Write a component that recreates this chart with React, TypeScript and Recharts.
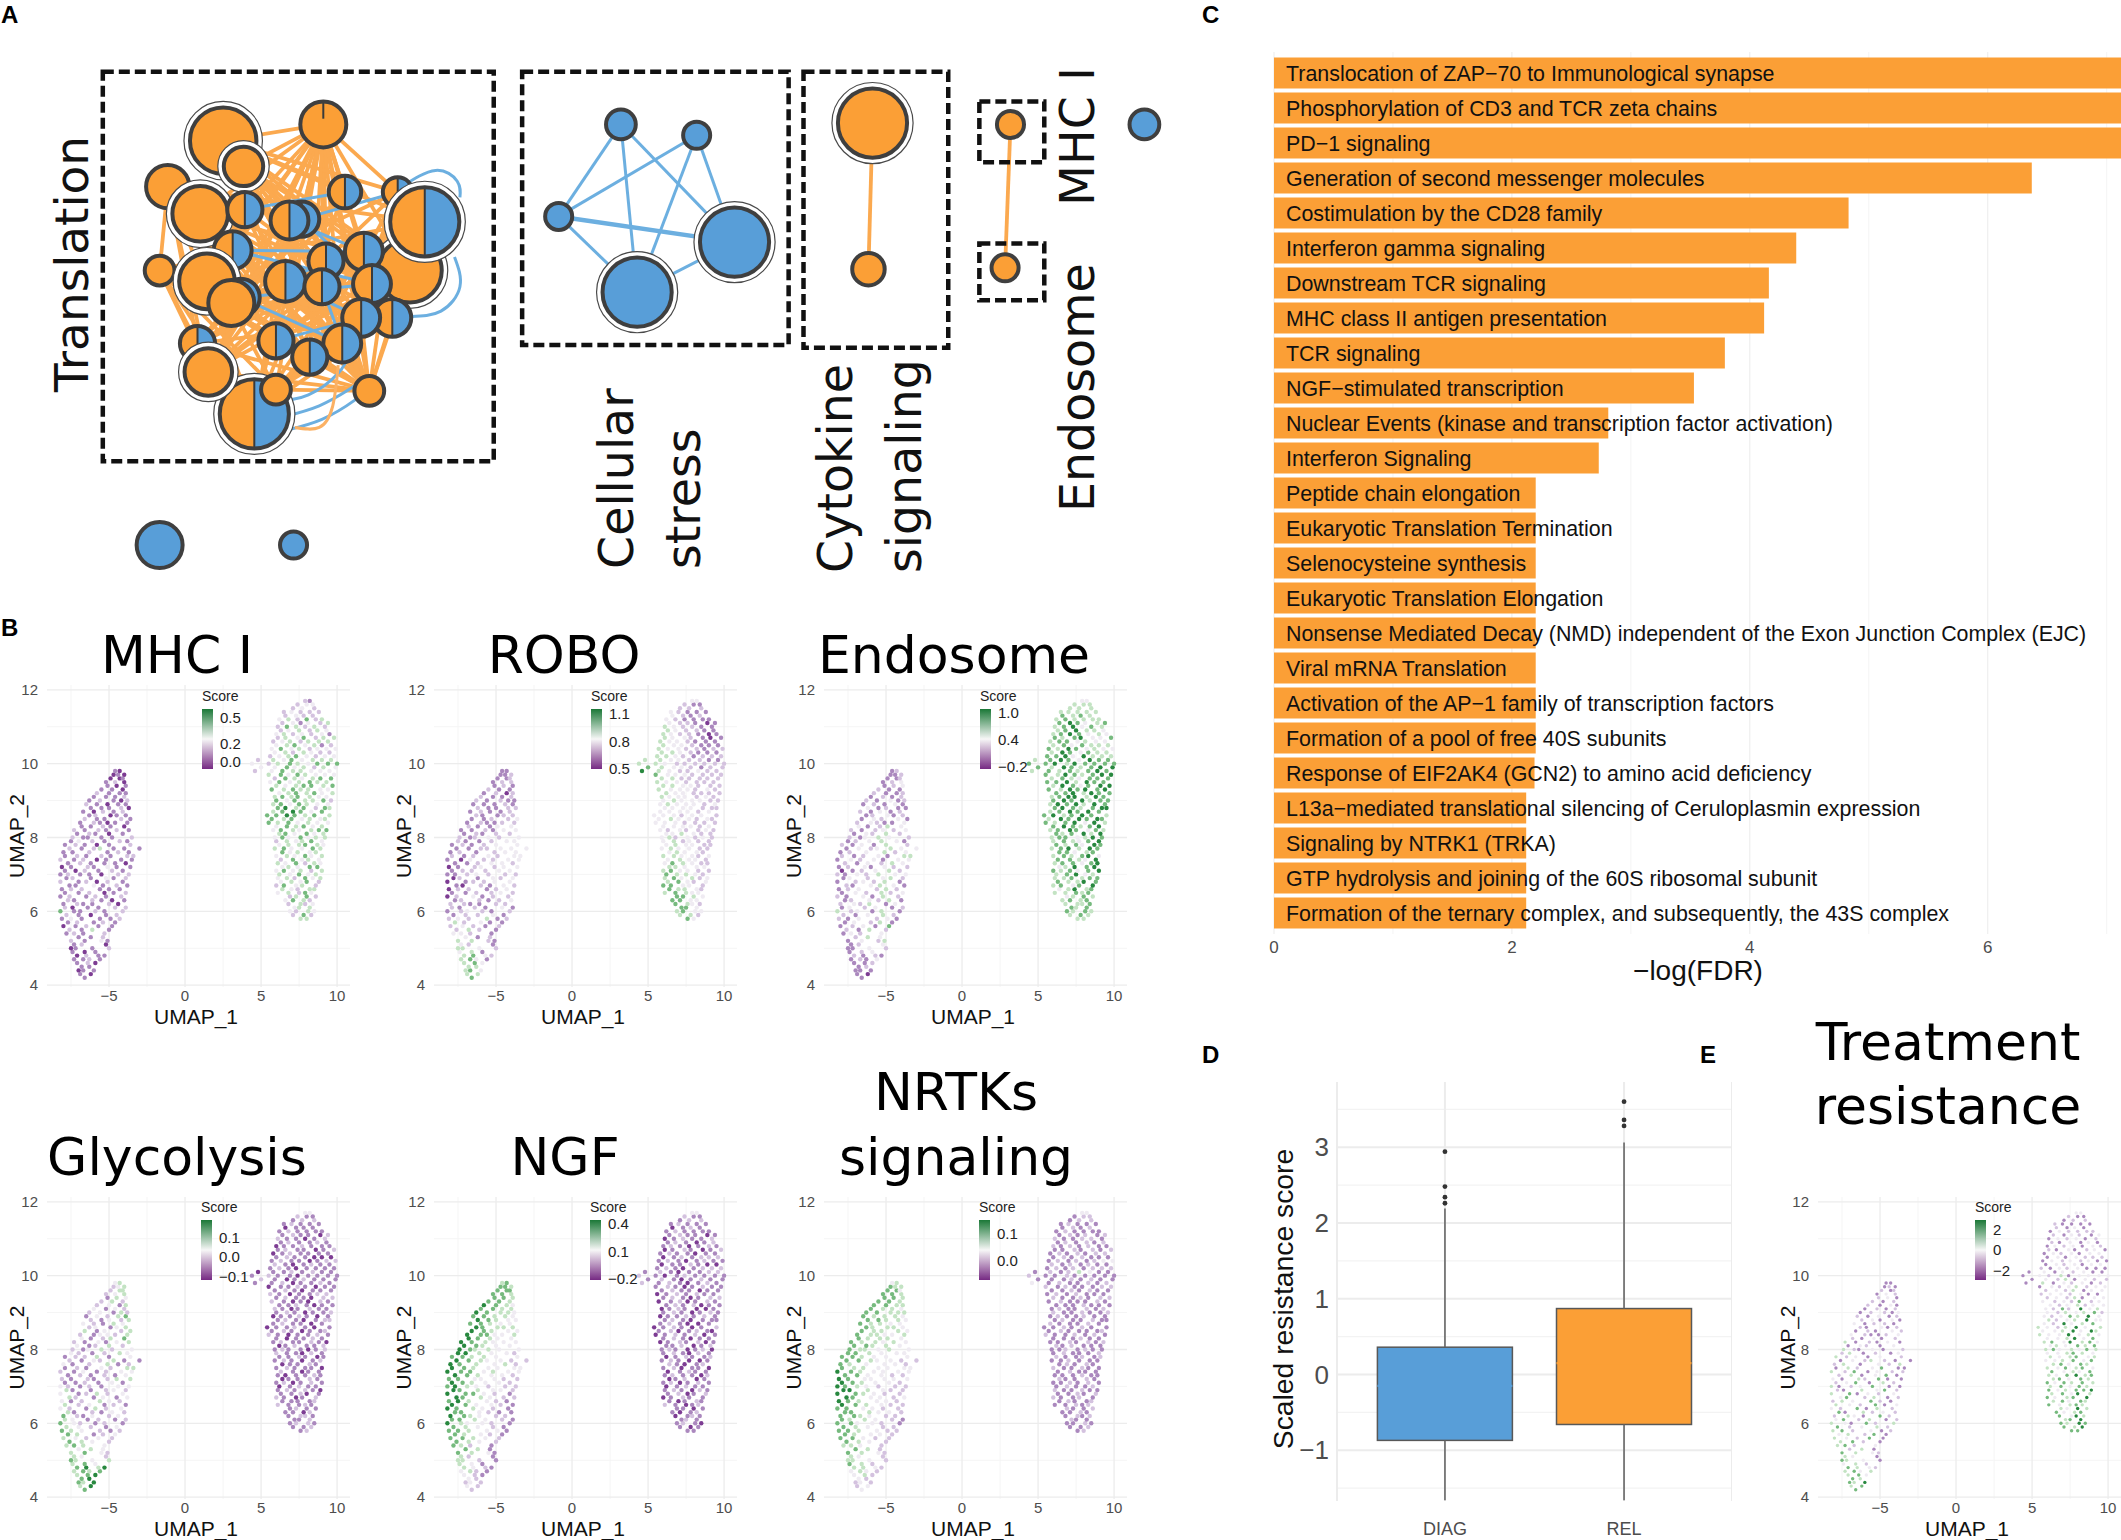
import React from 'react';
import {
  ScatterChart, Scatter, XAxis, YAxis, CartesianGrid, BarChart, Bar, LabelList,
  ComposedChart, ReferenceLine, ReferenceDot,
} from 'recharts';

const ORANGE = '#fb9f36';
const BLUE = '#589ed8';
const SANS = 'Liberation Sans, Arial, sans-serif';
const DEJAVU = 'DejaVu Sans, sans-serif';

// ---- panel A: network, layout units ----
// x, y, r, share of blue (0 orange, 1 blue, 0.5 split), ring
const netNodes: [number, number, number, number, number][] = [
  [165, 104, 29, 0, 1], [124, 138, 16, 0, 0], [180, 123, 19, 0, 1], [239, 92, 17, 0.01, 0],
  [148, 158, 25, 0, 1], [181, 155, 13, 0.5, 0], [294, 142, 11, 0.5, 0], [255, 142, 12, 0.5, 0],
  [303, 200, 28, 0, 1], [223, 162, 13, 0.5, 0], [214, 163, 14, 0.5, 0], [172, 185, 14, 0.5, 0],
  [241, 193, 13, 0.5, 0], [269, 186, 14, 0.5, 0], [118, 200, 11, 0, 0], [153, 208, 25, 0, 1],
  [275, 210, 14, 0.5, 0], [290, 235, 14, 0.5, 0], [178, 220, 14, 0.5, 0], [171, 224, 17, 0, 0],
  [211, 208, 15, 0.5, 0], [238, 212, 13, 0.5, 0], [267, 235, 14, 0.5, 0], [204, 252, 13, 0.5, 0],
  [253, 254, 14, 0.5, 0], [146, 254, 13, 0.5, 0], [229, 264, 13, 0.5, 0], [188, 306, 30, 0.5, 1],
  [154, 275, 22, 0, 1], [204, 288, 11, 0, 0], [273, 289, 11, 0, 0], [314, 164, 30, 0.5, 1],
  [459, 92, 11, 1, 0], [515, 100, 10, 1, 0], [413, 160, 10, 1, 0], [543, 179, 30, 1, 1], [471, 216, 30, 1, 1],
  [645, 91, 30, 0, 1], [642, 199, 12, 0, 0],
  [747, 92, 10, 0, 0], [743, 198, 10, 0, 0],
  [846, 92, 11, 1, 0], [118, 403, 17, 1, 0], [217, 403, 10, 1, 0],
];
const orangeEdges: [number, number][] = [
  [3, 0], [3, 2], [3, 5], [3, 7], [3, 6], [3, 9], [3, 10], [3, 11], [3, 12], [3, 13], [3, 16], [3, 20], [3, 21],
  [3, 8], [3, 22], [3, 23], [3, 24], [3, 26], [3, 30], [3, 19], [3, 4], [3, 15], [3, 18], [3, 29], [3, 27], [3, 28],
  [0, 6], [0, 8], [0, 30], [0, 24], [0, 26], [0, 7], [0, 13], [0, 16], [0, 22], [0, 21],
  [1, 14], [1, 25], [1, 28], [1, 19], [1, 27], [1, 23], [1, 26], [1, 29], [1, 20], [1, 12], [1, 24], [1, 30],
  [4, 30], [4, 17], [4, 24], [4, 26], [4, 22], [4, 16], [4, 8], [14, 25], [14, 28], [14, 27], [14, 29], [14, 11],
  [14, 20], [14, 23], [14, 26], [14, 21], [14, 24], [14, 30], [14, 22], [15, 30], [15, 17], [15, 6], [15, 24], [6, 17],
  [6, 30], [6, 8], [6, 22], [6, 24], [6, 26], [8, 30], [8, 27], [8, 29], [8, 26], [8, 23], [17, 30], [17, 27], [17, 29],
  [17, 26], [17, 25], [22, 30], [24, 30], [26, 30], [25, 30], [28, 30], [29, 30], [23, 30], [19, 30], [21, 30], [12, 30],
  [13, 27], [16, 27], [7, 27], [7, 28], [5, 30], [9, 28], [10, 28], [2, 30], [2, 24], [0, 17], [13, 28], [6, 28], [31, 28],
  [31, 27], [31, 25], [31, 14], [31, 1], [31, 0], [31, 23], [31, 26], [31, 29], [31, 19], [21, 25], [20, 24], [11, 24],
  [18, 22], [5, 26], [7, 25], [12, 25], [2, 22], [2, 17], [2, 8], [5, 17], [9, 25], [10, 27], [16, 28], [13, 25], [20, 30],
  [37, 38], [39, 40],
];
const blueEdges: [number, number][] = [
  [11, 13], [5, 7], [9, 16], [12, 20], [16, 18], [21, 24], [23, 22], [10, 13], [6, 9], [11, 16], [18, 24], [20, 22],
  [32, 34], [32, 35], [32, 36], [33, 34], [33, 35], [33, 36], [34, 36], [35, 36],
];
const heavyEdges: [number, number][] = [[34, 35]];
const blueArcs: [number, number][][] = [
  [[297, 138], [322, 126], [338, 134], [340, 146]],
  [[336, 190], [340, 212], [326, 230], [304, 234]],
  [[210, 308], [236, 300], [258, 288], [270, 280]],
  [[212, 318], [238, 310], [262, 296], [276, 284]],
  [[206, 296], [228, 292], [250, 276], [258, 262]],
];
const orangeArcs: [number, number][][] = [
  [[218, 316], [236, 316], [246, 300], [250, 270]],
];
const netBoxes: [number, number, number, number][] = [
  [76, 53, 365, 341], [386, 53, 583, 255], [594, 53, 701, 257], [724, 75, 772, 120], [724, 180, 772, 222],
];

// ---- panel B/E: UMAP coordinates per row, y then x values ----
const umapRows: [number, number[]][] = [
  [4.2, [-6.6]], [4.3, [-6.9, -6.2]], [4.4, [-7.0, -6.7, -6.0]], [4.5, [-6.8, -6.3]], [4.6, [-7.1, -6.4, -5.9]],
  [4.7, [-7.3, -6.7, -6.3, -5.6]], [4.8, [-7.1, -6.5, -5.7, -5.3]], [4.9, [-7.4, -6.6, -5.9]],
  [5.0, [-7.5, -7.2, -6.1, -5.0]], [5.1, [-7.3, -6.8, -5.2]], [5.2, [-7.5, -6.6, -5.5, -5.1]], [5.3, [-7.0, -6.2, -5.4]],
  [5.4, [-7.8, -7.3, -6.7, -5.3]], [5.5, [-7.6, -6.8, -6.1, -5.0]], [5.6, [-8.0, -7.2, -6.5, -5.7, -4.8]],
  [5.7, [-7.7, -7.1, -6.0, -5.4, -4.6]], [5.8, [-8.1, -7.5, -6.8, -5.6, -4.9, -4.3]], [5.9, [-7.8, -7.0, -6.2, -5.2, -4.5]],
  [6.0, [-8.2, -7.3, -6.9, -5.9, -5.3, -4.1]], [6.1, [-7.9, -7.4, -6.4, -5.7, -4.6, -3.9]], [6.2, [-8.0, -7.1, -6.7, -6.1, -5.0, -4.4]],
  [6.3, [-7.7, -7.3, -6.1, -5.5, -4.8, -4.0]], [6.4, [-8.2, -7.6, -6.5, -5.9, -5.2, -4.2]], [6.5, [-7.9, -7.0, -6.3, -5.3, -4.7, -3.9]],
  [6.6, [-8.1, -7.5, -6.8, -5.6, -5.0, -4.3]], [6.7, [-7.6, -7.2, -6.0, -5.4, -4.5, -3.8]], [6.8, [-8.2, -7.0, -6.5, -5.8, -5.1, -4.1]],
  [6.9, [-7.8, -7.4, -6.2, -5.2, -4.7, -3.9]], [7.0, [-8.2, -7.7, -6.9, -6.3, -5.5, -4.4, -3.7]], [7.1, [-7.9, -7.2, -6.6, -5.7, -4.8, -4.1]],
  [7.2, [-8.1, -7.5, -6.4, -6.0, -5.1, -4.5, -3.6]], [7.3, [-7.7, -6.9, -6.2, -5.3, -4.6, -3.9]], [7.4, [-8.2, -7.3, -6.7, -5.8, -5.2, -4.2, -3.5]],
  [7.5, [-7.9, -7.1, -6.5, -5.5, -4.9, -3.8, -3.4]], [7.6, [-8.0, -7.4, -6.3, -5.1, -4.4, -3.7]], [7.7, [-7.6, -6.8, -6.0, -5.6, -4.7, -4.0, -3.0]],
  [7.8, [-7.9, -7.2, -6.6, -5.8, -5.0, -3.6]], [7.9, [-7.5, -7.0, -6.1, -5.3, -4.3, -3.8]], [8.0, [-7.4, -6.7, -6.4, -5.5, -4.8, -3.5]],
  [8.1, [-7.1, -6.3, -5.9, -5.0, -4.1]], [8.2, [-7.3, -6.6, -5.7, -5.2, -4.5, -3.7]], [8.3, [-6.8, -6.2, -5.4, -4.9, -4.0]],
  [8.4, [-6.9, -6.0, -5.6, -4.6, -3.8, -5.1]], [8.5, [-6.6, -5.8, -5.3, -4.2, -3.6]], [8.6, [-6.3, -5.9, -4.9, -4.5, -3.9]],
  [8.7, [-6.7, -6.0, -5.4, -4.7, -4.1]], [8.8, [-6.2, -5.5, -5.0, -4.2, -3.7]], [8.9, [-6.5, -5.8, -5.1, -4.4, -3.9]],
  [9.0, [-6.3, -5.6, -4.7, -4.2, -3.8]], [9.1, [-6.0, -5.2, -4.6, -4.0]], [9.2, [-5.8, -5.0, -4.3, -3.9]], [9.3, [-5.5, -4.8, -4.1]],
  [9.4, [-5.1, -4.5, -3.9]], [9.5, [-5.2, -4.6, -4.0]], [9.6, [-4.9, -4.3, -4.1]], [9.7, [-4.7, -4.4, -4.0]], [9.8, [-4.6, -4.3]],

  [5.8, [7.6, 8.0]], [5.9, [7.1, 7.8, 8.3]], [6.0, [6.9, 7.3, 8.1, 8.5]], [6.1, [7.2, 7.5, 8.2]], [6.2, [6.8, 7.6, 7.9, 8.4]],
  [6.3, [6.6, 7.1, 7.8, 8.2]], [6.4, [6.9, 7.3, 8.0, 8.6]], [6.5, [6.1, 6.8, 7.5, 7.9, 8.3]], [6.6, [6.4, 7.0, 7.4, 8.2, 8.5]],
  [6.7, [6.0, 6.5, 7.3, 7.7, 8.6]], [6.8, [6.3, 7.0, 7.6, 8.0, 8.8]], [6.9, [6.1, 6.7, 7.2, 7.9, 8.4, 8.9]],
  [7.0, [6.2, 6.9, 7.5, 8.1, 8.6]], [7.1, [6.0, 6.5, 7.1, 7.6, 8.3, 9.0]], [7.2, [6.4, 6.8, 7.4, 8.2, 8.7]],
  [7.3, [6.1, 6.6, 7.3, 7.9, 8.5, 8.9]], [7.4, [6.3, 7.1, 7.7, 8.1, 8.8]], [7.5, [6.0, 6.7, 7.2, 7.9, 8.3, 9.0]],
  [7.6, [6.4, 6.9, 7.4, 8.2, 8.6]], [7.7, [5.9, 6.5, 7.0, 7.7, 8.4, 8.9]], [7.8, [6.2, 6.8, 7.5, 7.9, 8.7, 9.1]],
  [7.9, [6.0, 6.7, 7.3, 7.7, 8.3, 9.0]], [8.0, [5.9, 6.4, 6.8, 7.6, 8.1, 8.6, 9.2]], [8.1, [6.2, 6.6, 7.2, 8.0, 8.5, 9.1]],
  [8.2, [5.8, 6.3, 7.1, 7.5, 8.3, 8.8, 9.3]], [8.3, [6.0, 6.7, 7.3, 7.8, 8.4, 9.0]], [8.4, [5.5, 6.1, 6.8, 7.4, 8.1, 8.7, 9.4]],
  [8.5, [5.7, 6.5, 7.0, 7.7, 8.2, 8.9, 9.2]], [8.6, [5.4, 6.0, 6.7, 7.2, 7.9, 8.5, 9.5]], [8.7, [5.8, 6.4, 7.1, 7.6, 8.3, 9.0]],
  [8.8, [6.1, 6.6, 7.3, 7.8, 8.6, 9.2, 9.5]], [8.9, [5.8, 6.3, 6.9, 7.5, 8.0, 8.7, 9.4]], [9.0, [6.0, 6.7, 7.2, 7.9, 8.4, 9.1, 9.6]],
  [9.1, [5.9, 6.4, 7.0, 7.4, 8.2, 8.8, 9.3]], [9.2, [6.2, 6.8, 7.3, 8.0, 8.5, 9.0, 9.7]], [9.3, [5.7, 6.5, 7.1, 7.6, 8.1, 8.9, 9.4]],
  [9.4, [6.0, 6.6, 7.3, 7.8, 8.3, 9.1, 9.7]], [9.5, [5.6, 6.2, 6.9, 7.5, 8.2, 8.7, 9.3]], [9.6, [5.9, 6.6, 7.2, 7.7, 8.4, 8.9, 9.6]],
  [9.7, [5.5, 6.3, 6.8, 7.4, 7.9, 8.6, 9.2, 9.8]], [9.8, [4.6, 5.7, 6.4, 7.1, 7.6, 8.3, 8.9, 9.5]], [9.9, [5.0, 5.9, 6.7, 7.2, 7.8, 8.5, 9.1, 9.9]],
  [10.0, [4.4, 5.5, 6.1, 6.9, 7.4, 8.1, 8.7, 9.4, 10.0]], [10.1, [4.8, 5.8, 6.5, 7.0, 7.7, 8.4, 9.0, 9.6]], [10.2, [5.6, 6.2, 6.8, 7.3, 8.0, 8.6, 9.2, 9.8]],
  [10.3, [5.9, 6.6, 7.1, 7.8, 8.3, 8.9, 9.5]], [10.4, [5.7, 6.3, 7.0, 7.5, 8.2, 8.7, 9.3, 9.9]], [10.5, [6.0, 6.7, 7.2, 7.9, 8.5, 9.0, 9.6]],
  [10.6, [5.8, 6.4, 6.9, 7.6, 8.1, 8.8, 9.4]], [10.7, [6.1, 6.6, 7.4, 7.8, 8.6, 9.1, 9.8]], [10.8, [6.0, 6.5, 7.1, 7.7, 8.3, 9.0, 9.5]],
  [10.9, [6.3, 6.8, 7.5, 8.2, 8.7, 9.3]], [11.0, [6.1, 6.7, 7.3, 7.9, 8.5, 9.2]], [11.1, [6.4, 7.1, 7.6, 8.1, 8.9, 9.4]],
  [11.2, [6.2, 6.8, 7.4, 8.0, 8.6, 9.0]], [11.3, [6.6, 7.3, 7.8, 8.4]], [11.4, [6.5, 7.0, 7.6, 8.2, 8.8]], [11.5, [7.1, 7.7, 8.5]],
  [11.6, [7.4, 8.0, 8.4]], [11.7, [7.9, 8.2]],
];

// score level of each cell, one group per row above: 0 purple .. 3 pale .. 6 green
const mhcScores = `1 10 011 11 120 1121 0211 101 0112 120 2131 112 1212 2141 01211 12121 131112 21012 511212 201122 121120 212101
  121212 112012 122111 113121 212021 121312 121102 102121 012131 121110 212011 121212 112121 212411 121012 132121 211112 12101
  212121 11210 121110 21121 12011 10212 11120 21011 12102 1112 2111 110 101 120 001 010 10
  44 252 3243 344 2423 3542 2452 34253 43244 25342 34352 342534 43534 353424 343553 435243 253434 343534 53434 453354 344543
  243453 353534 4535343 354345 3545345 545343 5453434 5565454 4565353 5645254 453543 5354452 454543 3454534 545443 4345545
  353454 254345 453543 2354433 33534243 3245435 243534 2345323 342432 353423 3453412 23424 243524 3423231 2342433 254242
  231324 342524 232 2322 232 23 21`;
const roboScores = `5 44 453 44 453 4531 4532 341 4432 321 4421 312 3321 2421 23212 42311 232412 12231 123212 212131 221122 122123
  023122 112232 022123 102132 012233 021323 112322 122233 012323 112332 103223 212323 121233 112233 121233 211233 212323
  12122 112133 21133 121221 11223 21122 12112 21122 11121 21211 2112 1202 211 121 122 112 112 11
  53 442 4533 553 5432 5533 5543 45433 54432 55332 45323 453423 54432 453322 443331 354322 343322 443323 34332 343322
  343322 342322 3423232 334322 3232232 333323 3332222 3433232 3332332 333323 3333222 3433323 3433322 4333232 433222 4333232
  443322 433222 442222 5333222 64322322 5433212 4432222 4433221 443212 443211 4332212 43321 433211 4332101 4322101 432211
  432211 322101 321 3212 321 22 21`;
const endosomeScores = `1 10 111 12 112 1213 2121 123 1132 123 1324 243 1323 2142 12315 13241 213231 21342 423141 132312 232413 123241
  213142 132423 123242 213431 123241 132342 213243 012342 123132 213243 132313 212314 123423 132343 213142 123431 213432
  13242 212323 31243 232131 13231 12312 21312 31211 12131 21312 1212 2112 211 123 123 112 112 12
  44 454 5454 545 4445 4545 3454 44545 34645 45356 54465 445455 456346 545356 346564 455356 554365 454563 55345 456465
  545365 454356 4553465 545646 4565354 565456 5456364 4656565 5645654 4565656 565456 4656465 5656455 4566465 556465 5465656
  465356 556465 454355 5465456 45454565 5465456 556465 4565365 556364 465354 5465343 45354 455343 5456335 4565343 456443
  456354 565345 454 5454 444 44 44`;
const glycolysisScores = `5 46 546 56 456 4545 5646 453 5434 432 4532 343 4543 5432 43232 54123 543212 43213 532121 431212 521323 412132
  321423 423121 312432 421313 312423 411232 321213 112131 212124 121213 213123 121324 312412 213241 122413 321243 213423
  31242 213134 31245 213243 41324 23134 32143 21324 13245 23142 3132 2314 242 143 234 244 234 34
  12 112 1221 112 1221 1102 1211 21121 11112 21012 11201 121210 012112 120121 011212 101121 210112 121110 01121 121012
  112101 211021 1211012 012112 1211210 101121 2101121 1210112 0112101 1211012 121012 0112101 1210112 2101211 112101 2101021
  121102 210112 121011 0112101 11201121 2101211 121101 0112121 121011 210121 1211012 12110 012111 1211012 0112111 121121
  211012 121102 121 0111 121 12 21`;
const ngfScores = `2 32 232 32 321 3421 4321 431 4421 421 5431 541 5421 5432 55432 54321 554331 54321 643321 554321 654322 553211
  654321 653321 564321 654322 655321 654332 564322 654332 553332 654332 655343 654333 654342 654332 554433 664332 654433
  65433 654333 65433 655343 65433 65444 55433 65433 55443 65443 5544 6543 554 554 554 555 554 45
  11 101 1210 121 0121 1012 1101 21012 10121 01211 12012 121021 012112 120121 012012 121102 012112 120110 21012 121001
  012112 121021 1210120 112012 0121201 121011 0121201 1201210 0121012 1210012 121011 0112121 1210121 0121001 121201 0120121
  121012 012121 121101 1210121 21210121 1210121 210121 1210112 121012 011210 1210121 01212 121101 0121012 1210121 121012
  012112 121101 121 0121 121 12 21`;
const nrtkScores = `3 23 232 32 342 3432 4432 542 4432 432 5432 542 4432 5432 55322 54332 554322 54322 553321 544321 554322 554332
  553322 654322 654332 653323 654322 664322 654322 654332 653333 553322 654333 544333 543332 554332 554333 554333 544343
  55443 544343 54443 544343 54443 54443 54433 55443 54443 55444 5443 5544 554 554 554 553 544 34
  12 112 1121 211 1212 1121 2112 11212 12112 21121 11212 211211 121121 112121 211212 111211 121112 211211 12121 112111
  211212 121112 1121211 212111 1121212 111211 2112121 1211112 1121211 2111214 121121 1211211 2112112 1211212 111211 1211121
  211212 121211 112121 2121112 31211212 1112121 211211 1212431 121212 212121 1212123 12121 121212 1121212 2121211 121212
  211221 121212 121 1212 121 12 12`;
const treatmentScores = `5 45 546 54 453 4534 5432 342 5431 431 5432 241 4523 4521 43251 34251 452312 52342 431524 352412 243152 514232
  325142 432513 243521 352412 451323 214352 412351 235142 314251 241351 425132 142351 241324 132421 423132 241213 421312
  13213 412131 21312 321231 12132 21312 31221 23131 21312 12213 1212 2131 212 231 132 212 121 11
  55 546 5465 456 5364 5345 4364 53454 45354 53456 45364 534556 453543 535454 453543 435645 534354 435453 45354 334535
  434534 334543 4534354 343545 4536453 334635 4336343 3346364 4324634 3263453 423463 3235463 3243452 3252634 323423 3232523
  232413 233231 232413 1323423 14132312 1324132 132413 1313231 213231 132313 1323231 13132 132313 2131231 1323132 213131
  132312 213213 132 2131 211 12 21`;

const scorePalette = ['#7d3c93', '#ab88be', '#d4c2df', '#efebf2', '#c3e3c3', '#76ba7e', '#28883f'];

const umapPanels = [
  { scores: mhcScores, x0: 185, y12: 690, dot: 2.2 },
  { scores: roboScores, x0: 572, y12: 690, dot: 2.2 },
  { scores: endosomeScores, x0: 962, y12: 690, dot: 2.2 },
  { scores: glycolysisScores, x0: 185, y12: 1201.5, dot: 2.2 },
  { scores: ngfScores, x0: 572, y12: 1201.5, dot: 2.2 },
  { scores: nrtkScores, x0: 962, y12: 1201.5, dot: 2.2 },
  { scores: treatmentScores, x0: 1956, y12: 1201.5, dot: 1.7 },
];
const umapXTicks = [-5, 0, 5, 10];
const umapYTicks = [4, 6, 8, 10, 12];
const umapXMinor = [-7.5, -2.5, 2.5, 7.5];
const umapYMinor = [5, 7, 9, 11];

const scoreLegends: { x: number; y: number; ticks: [string, number][] }[] = [
  { x: 202, y: 709, ticks: [['0.5', 718], ['0.2', 744], ['0.0', 762]] },
  { x: 591, y: 709, ticks: [['1.1', 714], ['0.8', 742], ['0.5', 769]] },
  { x: 980, y: 709, ticks: [['1.0', 713], ['0.4', 740], ['−0.2', 767]] },
  { x: 201, y: 1220, ticks: [['0.1', 1238], ['0.0', 1257], ['−0.1', 1277]] },
  { x: 590, y: 1220, ticks: [['0.4', 1224], ['0.1', 1252], ['−0.2', 1279]] },
  { x: 979, y: 1220, ticks: [['0.1', 1234], ['0.0', 1261]] },
  { x: 1975, y: 1220, ticks: [['2', 1230], ['0', 1250], ['−2', 1271]] },
];

// ---- panel C ----
const pathwayNames = [
  'Translocation of ZAP−70 to Immunological synapse', 'Phosphorylation of CD3 and TCR zeta chains', 'PD−1 signaling',
  'Generation of second messenger molecules', 'Costimulation by the CD28 family', 'Interferon gamma signaling',
  'Downstream TCR signaling', 'MHC class II antigen presentation', 'TCR signaling', 'NGF−stimulated transcription',
  'Nuclear Events (kinase and transcription factor activation)', 'Interferon Signaling', 'Peptide chain elongation',
  'Eukaryotic Translation Termination', 'Selenocysteine synthesis', 'Eukaryotic Translation Elongation',
  'Nonsense Mediated Decay (NMD) independent of the Exon Junction Complex (EJC)', 'Viral mRNA Translation',
  'Activation of the AP−1 family of transcription factors', 'Formation of a pool of free 40S subunits',
  'Response of EIF2AK4 (GCN2) to amino acid deficiency', 'L13a−mediated translational silencing of Ceruloplasmin expression',
  'Signaling by NTRK1 (TRKA)', 'GTP hydrolysis and joining of the 60S ribosomal subunit',
  'Formation of the ternary complex, and subsequently, the 43S complex',
];
const pathwayFdr = [
  7.6, 7.6, 7.6, 6.37, 4.83, 4.39, 4.16, 4.12, 3.79, 3.53, 2.81, 2.73, 2.2, 2.2, 2.2, 2.2, 2.2, 2.2, 2.2, 2.2, 2.19,
  2.12, 2.12, 2.12, 2.12,
];
const pathwayRows = pathwayNames.map((name, i) => ({ name, value: pathwayFdr[i] }));

// ---- panel D ----
const boxNames = ['DIAG', 'REL'];
const boxLow = [-1.66, -1.66];
const boxQ1 = [-0.87, -0.66];
const boxMedian = [-0.15, 0.15];
const boxQ3 = [0.36, 0.87];
const boxHigh = [2.19, 3.06];
const boxOutliers: [string, number][] = [
  ['DIAG', 2.94], ['DIAG', 2.48], ['DIAG', 2.34], ['DIAG', 2.26], ['REL', 3.6], ['REL', 3.36], ['REL', 3.28],
];
const boxRows = boxNames.map((name, i) => ({
  name, fill: i === 0 ? BLUE : ORANGE, q1: boxQ1[i], median: boxMedian[i], q3: boxQ3[i],
}));

const minus = (v: number) => (v < 0 ? `−${-v}` : `${v}`);

function NetNode(p: any) {
  const d = p.payload;
  const outer = d.r * 1.3527;
  const r = d.ring ? outer - 6 : outer;
  const { cx, cy } = p;
  const fill = d.blue >= 0.9 ? BLUE : ORANGE;
  return (
    <g>
      {d.ring ? <circle cx={cx} cy={cy} r={outer} fill="#fff" stroke="#4a4a4a" strokeWidth={1.2} /> : null}
      <circle cx={cx} cy={cy} r={r} fill={fill} />
      {d.blue > 0.2 && d.blue < 0.9 ? (
        <path d={`M${cx},${cy - r}A${r},${r} 0 0 1 ${cx},${cy + r}Z`} fill={BLUE} />
      ) : null}
      {d.blue > 0 && d.blue < 0.9 ? (
        <line x1={cx} x2={cx} y1={cy - r} y2={d.blue > 0.2 ? cy + r : cy - r * 0.25} stroke="#3a3a3a" strokeWidth={2} />
      ) : null}
      <circle cx={cx} cy={cy} r={r} fill="none" stroke="#3f3f3f" strokeWidth={4} />
    </g>
  );
}

function Network() {
  const nodes = netNodes.map(([x, y, r, blue, ring]) => ({ x, y, r, blue, ring }));
  const seg = (a: number, b: number) => [nodes[a], nodes[b]];
  const edgeSeries = (list: any[], color: string, width: number, key: string, curve = false) =>
    list.map((pts, i) => (
      <Scatter
        key={key + i}
        data={pts}
        line={{ stroke: color, strokeWidth: width }}
        lineJointType={curve ? 'natural' : 'linear'}
        shape={() => <g />}
        isAnimationActive={false}
      />
    ));
  const toPts = (arc: [number, number][]) => arc.map(([x, y]) => ({ x, y }));
  return (
    <div style={{ position: 'absolute', left: 0, top: 0, width: 1200, height: 600 }}>
      <ScatterChart width={1200} height={600} margin={{ top: 0, right: 0, bottom: 0, left: 0 }}>
        <XAxis type="number" dataKey="x" domain={[0, 887.1]} hide />
        <YAxis type="number" dataKey="y" domain={[0, 443.6]} reversed hide />
        {edgeSeries(orangeEdges.map(([a, b]) => seg(a, b)), '#fba94f', 3.8, 'o')}
        {edgeSeries(blueEdges.map(([a, b]) => seg(a, b)), '#6cafe0', 3, 'b')}
        {edgeSeries(heavyEdges.map(([a, b]) => seg(a, b)), '#6cafe0', 4.5, 'h')}
        {edgeSeries(blueArcs.map(toPts), '#6cafe0', 3, 'ba', true)}
        {edgeSeries(orangeArcs.map(toPts), '#fbb164', 3, 'oa', true)}
        <Scatter data={nodes} shape={NetNode} isAnimationActive={false} />
      </ScatterChart>
    </div>
  );
}

function UmapPanel({ scores, x0, y12, dot }: any) {
  const groups = scores.trim().split(/\s+/);
  const cells = umapRows.flatMap(([y, xs], j) =>
    xs.map((x, k) => {
      const g = groups[j] ?? '3';
      return { x, y, level: Number(g[k] ?? g[g.length - 1]) };
    }),
  );
  const axisW = 46;
  const topPad = 12;
  const plotL = x0 - 138;
  const plotT = y12 - 5;
  const plotW = 303;
  const plotH = 302;
  return (
    <div style={{ position: 'absolute', left: plotL - axisW, top: plotT - topPad }}>
      <ScatterChart width={plotW + axisW} height={plotH + topPad + 30} margin={{ top: topPad, right: 0, bottom: 0, left: 0 }}>
        <CartesianGrid stroke="#f5f5f5" strokeWidth={1} verticalValues={umapXMinor} horizontalValues={umapYMinor} />
        <CartesianGrid stroke="#ececec" strokeWidth={1.3} verticalValues={umapXTicks} horizontalValues={umapYTicks} />
        <XAxis
          type="number"
          dataKey="x"
          domain={[-9.08, 10.85]}
          ticks={umapXTicks}
          tickFormatter={minus}
          height={30}
          axisLine={false}
          tickLine={false}
          tickMargin={0}
          interval={0}
          tick={{ fill: '#4d4d4d', fontSize: 15, fontFamily: SANS, dy: -3 }}
        />
        <YAxis
          type="number"
          dataKey="y"
          domain={[3.95, 12.13]}
          ticks={umapYTicks}
          width={axisW}
          axisLine={false}
          tickLine={false}
          tickMargin={3}
          interval={0}
          tick={{ fill: '#4d4d4d', fontSize: 15, fontFamily: SANS }}
        />
        <Scatter
          data={cells}
          isAnimationActive={false}
          shape={(p: any) => <circle cx={p.cx} cy={p.cy} r={dot} fill={scorePalette[p.payload.level]} />}
        />
      </ScatterChart>
    </div>
  );
}

function PathwayLabel(p: any) {
  return (
    <text x={p.x + 12} y={p.y + p.height / 2 + 7.5} fontFamily={SANS} fontSize={21.4} fill="#111">
      {p.value}
    </text>
  );
}

function PathwayBars() {
  return (
    <div style={{ position: 'absolute', left: 1254, top: 52 }}>
      <BarChart
        width={867}
        height={930}
        data={pathwayRows}
        layout="vertical"
        margin={{ top: 0, right: 0, bottom: 0, left: 20 }}
      >
        <CartesianGrid stroke="#f4f4f4" horizontal={false} verticalValues={[1, 3, 5, 7]} />
        <CartesianGrid stroke="#ebebeb" horizontal={false} verticalValues={[0, 2, 4, 6]} />
        <XAxis
          type="number"
          domain={[0, 7.12]}
          ticks={[0, 2, 4, 6]}
          allowDataOverflow
          height={48}
          axisLine={false}
          tickLine={false}
          tickMargin={1}
          tick={{ fill: '#4d4d4d', fontSize: 17, fontFamily: SANS }}
        />
        <YAxis type="category" dataKey="name" hide padding={{ top: 3.5, bottom: 3.5 }} />
        <Bar dataKey="value" fill={ORANGE} barSize={31} isAnimationActive={false}>
          <LabelList dataKey="name" content={PathwayLabel} />
        </Bar>
      </BarChart>
    </div>
  );
}

function ResistanceBox() {
  const boxStroke = '#585858';
  return (
    <div style={{ position: 'absolute', left: 1287, top: 1082 }}>
      <ComposedChart
        width={445}
        height={458}
        data={boxRows}
        barSize={135}
        barGap={-135}
        margin={{ top: 0, right: 0, bottom: 0, left: 0 }}
      >
        <CartesianGrid stroke="#f3f3f3" strokeWidth={1.2} vertical={false} horizontalValues={[-1.5, -0.5, 0.5, 1.5, 2.5, 3.5]} />
        <CartesianGrid stroke="#ececec" strokeWidth={2} horizontalValues={[-1, 0, 1, 2, 3]} />
        <XAxis
          dataKey="name"
          padding={{ left: 18.4, right: 18.4 }}
          height={39}
          axisLine={false}
          tickLine={false}
          tickMargin={15}
          tick={{ fill: '#4d4d4d', fontSize: 18, fontFamily: SANS }}
        />
        <YAxis
          type="number"
          domain={[-1.67, 3.86]}
          ticks={[-1, 0, 1, 2, 3]}
          tickFormatter={minus}
          allowDataOverflow
          width={50}
          axisLine={false}
          tickLine={false}
          tickMargin={2}
          tick={{ fill: '#4d4d4d', fontSize: 26, fontFamily: SANS }}
        />
        {boxNames.map((name, i) => (
          <ReferenceLine key={name + 'hi'} segment={[{ x: name, y: boxQ3[i] }, { x: name, y: boxHigh[i] }]} stroke="#666" strokeWidth={1.6} />
        ))}
        {boxNames.map((name, i) => (
          <ReferenceLine key={name + 'lo'} segment={[{ x: name, y: boxLow[i] }, { x: name, y: boxQ1[i] }]} stroke="#666" strokeWidth={1.6} />
        ))}
        <Bar dataKey={(d: any) => [d.q1, d.q3]} isAnimationActive={false} stroke={boxStroke} strokeWidth={1.5}
          shape={(p: any) => <rect x={p.x} y={p.y} width={p.width} height={p.height} fill={p.payload.fill} stroke={boxStroke} strokeWidth={1.5} />} />
        <Bar dataKey={(d: any) => [d.median - 0.014, d.median + 0.014]} fill="#333" isAnimationActive={false} />
        {boxOutliers.map(([name, v]) => (
          <ReferenceDot key={name + v} x={name} y={v} r={2.4} fill="#333" stroke="none" />
        ))}
      </ComposedChart>
    </div>
  );
}

function PageText() {
  const Up = ({ x, y, size, children }: any) => (
    <text transform={`translate(${x},${y}) rotate(-90)`} fontFamily={DEJAVU} fontSize={size} fill="#111">{children}</text>
  );
  const Title = ({ x, y, children }: any) => (
    <text x={x} y={y} textAnchor="middle" fontFamily={DEJAVU} fontSize={52} fill="#000">{children}</text>
  );
  const Letter = ({ x, y, children }: any) => (
    <text x={x} y={y} fontFamily={SANS} fontWeight="bold" fontSize={24} fill="#000">{children}</text>
  );
  const Axis = ({ x, y, up, children }: any) => (
    <text transform={`translate(${x},${y})${up ? ' rotate(-90)' : ''}`} textAnchor="middle" fontFamily={SANS} fontSize={21} fill="#111">{children}</text>
  );
  return (
    <svg width={2121} height={1540} style={{ position: 'absolute', left: 0, top: 0, pointerEvents: 'none' }}>
      <defs>
        <linearGradient id="scoreBar" x1="0" x2="0" y1="0" y2="1">
          <stop offset="0" stopColor="#1b7837" />
          <stop offset="0.5" stopColor="#f7f7f7" />
          <stop offset="1" stopColor="#762a83" />
        </linearGradient>
      </defs>
      {netBoxes.map(([x1, y1, x2, y2]) => (
        <rect
          key={x1 + '-' + y1}
          x={x1 * 1.3527}
          y={y1 * 1.3527}
          width={(x2 - x1) * 1.3527}
          height={(y2 - y1) * 1.3527}
          fill="none"
          stroke="#111"
          strokeWidth={4.5}
          strokeDasharray="11 5"
        />
      ))}
      <Letter x={1} y={23}>A</Letter>
      <Letter x={1202} y={23}>C</Letter>
      <Letter x={1} y={636}>B</Letter>
      <Letter x={1202} y={1063}>D</Letter>
      <Letter x={1700} y={1063}>E</Letter>

      <Up x={88} y={392} size={47}>Translation</Up>
      <Up x={633} y={569} size={47.5}>Cellular</Up>
      <Up x={700} y={569} size={47.5}>stress</Up>
      <Up x={852} y={573} size={47.5}>Cytokine</Up>
      <Up x={921} y={573} size={47.5}>signaling</Up>
      <Up x={1094} y={512} size={47.5}>Endosome</Up>
      <Up x={1094} y={206} size={47.5}>MHC I</Up>

      <Title x={177} y={673}>MHC I</Title>
      <Title x={564} y={673}>ROBO</Title>
      <Title x={954} y={673}>Endosome</Title>
      <Title x={177} y={1175}>Glycolysis</Title>
      <Title x={565} y={1175}>NGF</Title>
      <Title x={956} y={1110}>NRTKs</Title>
      <Title x={956} y={1175}>signaling</Title>
      <Title x={1948} y={1060}>Treatment</Title>
      <Title x={1948} y={1124}>resistance</Title>

      {umapPanels.map((p) => (
        <React.Fragment key={p.x0 + '-' + p.y12}>
          <Axis x={p.x0 + 11} y={p.y12 + 334}>UMAP_1</Axis>
          <Axis up x={p.x0 - 161} y={p.y12 + 146}>UMAP_2</Axis>
        </React.Fragment>
      ))}
      {scoreLegends.map((l) => (
        <g key={l.x + '-' + l.y}>
          <text x={l.x} y={l.y - 8} fontFamily={SANS} fontSize={14} fill="#222">Score</text>
          <rect x={l.x} y={l.y} width={11} height={60} fill="url(#scoreBar)" />
          {l.ticks.map(([t, y]) => (
            <text key={t} x={l.x + 18} y={y + 5} fontFamily={SANS} fontSize={15} fill="#222">{t}</text>
          ))}
        </g>
      ))}
      <text x={1698} y={980} textAnchor="middle" fontFamily={SANS} fontSize={28} fill="#111">−log(FDR)</text>
      <text transform="translate(1293,1299) rotate(-90)" textAnchor="middle" fontFamily={SANS} fontSize={28.3} fill="#111">Scaled resistance score</text>
    </svg>
  );
}

export default function App() {
  return (
    <div style={{ position: 'absolute', left: 0, top: 0, width: 2121, height: 1540, background: '#fff', overflow: 'hidden' }}>
      <Network />
      {umapPanels.map((p) => (
        <UmapPanel key={p.x0 + '-' + p.y12} {...p} />
      ))}
      <PathwayBars />
      <ResistanceBox />
      <PageText />
    </div>
  );
}
